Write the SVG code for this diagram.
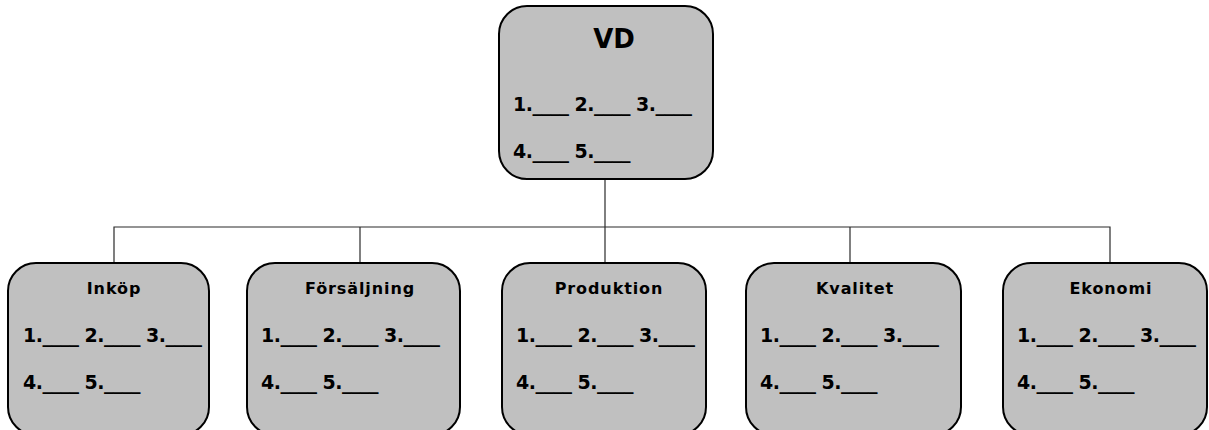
<svg xmlns="http://www.w3.org/2000/svg" width="1209" height="430" viewBox="0 0 1209 430">
  <style>
    .box { fill: #c0c0c0; stroke: #000; stroke-width: 2; }
    .wire { fill: none; stroke: #2a2a2a; stroke-width: 1.2; }
    text { font-family: "DejaVu Sans", Verdana, sans-serif; font-weight: bold; fill: #000; }
    .head { font-size: 26px; text-anchor: middle; }
    .title { font-size: 16px; text-anchor: middle; letter-spacing: 0.9px; }
    .item { font-size: 19px; letter-spacing: -0.5px; }
  </style>
  <rect width="1209" height="430" fill="#fff"/>

  <!-- connectors -->
  <g id="connectors">
    <path class="wire" d="M605 179 V227"/>
    <path class="wire" d="M114 263 V227 H1110 V263"/>
    <path class="wire" d="M360 227 V263"/>
    <path class="wire" d="M605 227 V263"/>
    <path class="wire" d="M850 227 V263"/>
  </g>

  <!-- top node -->
  <g id="vd">
    <rect class="box" x="499" y="6" width="214" height="173" rx="28" ry="28"/>
    <text class="head" x="614" y="48">VD</text>
    <text class="item" x="513" y="111">1.____ 2.____ 3.____</text>
    <text class="item" x="513" y="158">4.____ 5.____</text>
  </g>

  <!-- department nodes -->
  <g id="inkop">
    <rect class="box" x="8" y="263" width="201" height="172" rx="28" ry="28"/>
    <text class="title" x="114" y="294">Inköp</text>
    <text class="item" x="23" y="342">1.____ 2.____ 3.____</text>
    <text class="item" x="23" y="389">4.____ 5.____</text>
  </g>
  <g id="forsaljning">
    <rect class="box" x="247" y="263" width="213" height="172" rx="28" ry="28"/>
    <text class="title" x="360" y="294">Försäljning</text>
    <text class="item" x="261" y="342">1.____ 2.____ 3.____</text>
    <text class="item" x="261" y="389">4.____ 5.____</text>
  </g>
  <g id="produktion">
    <rect class="box" x="502" y="263" width="204" height="172" rx="28" ry="28"/>
    <text class="title" x="609" y="294">Produktion</text>
    <text class="item" x="516" y="342">1.____ 2.____ 3.____</text>
    <text class="item" x="516" y="389">4.____ 5.____</text>
  </g>
  <g id="kvalitet">
    <rect class="box" x="746" y="263" width="215" height="172" rx="28" ry="28"/>
    <text class="title" x="855" y="294">Kvalitet</text>
    <text class="item" x="760" y="342">1.____ 2.____ 3.____</text>
    <text class="item" x="760" y="389">4.____ 5.____</text>
  </g>
  <g id="ekonomi">
    <rect class="box" x="1003" y="263" width="204" height="172" rx="28" ry="28"/>
    <text class="title" x="1111" y="294">Ekonomi</text>
    <text class="item" x="1017" y="342">1.____ 2.____ 3.____</text>
    <text class="item" x="1017" y="389">4.____ 5.____</text>
  </g>
</svg>
